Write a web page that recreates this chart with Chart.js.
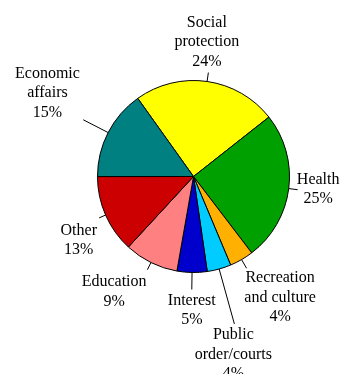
<!DOCTYPE html>
<html>
<head>
<meta charset="utf-8">
<script src="https://cdn.jsdelivr.net/npm/chart.js@4/dist/chart.umd.min.js"></script>
<style>
  html, body { margin: 0; padding: 0; background: #fff; }
  canvas { display: block; }
</style>
</head>
<body>
<canvas id="pie" width="340" height="374"></canvas>
<script>
// =====================
// DATA
// =====================
const categories = [
  ["Social", "protection"],
  ["Health"],
  ["Recreation", "and culture"],
  ["Public", "order/courts"],
  ["Interest"],
  ["Education"],
  ["Other"],
  ["Economic", "affairs"]
];
const shares = [24, 25, 4, 4, 5, 9, 13, 15];
const colors = ["#ffff00", "#00a000", "#ffb000", "#00ccff", "#0000cc", "#ff8080", "#cc0000", "#008080"];

// =====================
// LABEL LAYOUT (leader length, text offset from leader end)
// =====================
const labelLayout = [
  { len: 9, dx: -1.5, dy: -50 },
  { len: 9, dx: 20.5, dy: -10 },
  { len: 10, dx: 33.5, dy: 10 },
  { len: 57, dx: -1, dy: 11 },
  { len: 17, dx: 0, dy: 11 },
  { len: 8, dx: -33.3, dy: 12.5 },
  { len: 7, dx: -20.4, dy: 12.6 },
  { len: 28, dx: -35.8, dy: -46.2 }
];
const LINE_H = 19.5;

const sliceLabels = {
  id: "sliceLabels",
  afterDatasetsDraw(chart) {
    const ctx = chart.ctx;
    const meta = chart.getDatasetMeta(0);
    ctx.save();
    ctx.strokeStyle = "#000";
    ctx.lineWidth = 1;
    ctx.fillStyle = "#000";
    ctx.font = '16px "Liberation Serif"';
    ctx.textAlign = "center";
    ctx.textBaseline = "middle";
    meta.data.forEach((arc, i) => {
      const p = arc.getProps(["x", "y", "startAngle", "endAngle", "outerRadius"], true);
      const mid = (p.startAngle + p.endAngle) / 2;
      const lay = labelLayout[i];
      const x0 = p.x + Math.cos(mid) * p.outerRadius;
      const y0 = p.y + Math.sin(mid) * p.outerRadius;
      const x1 = p.x + Math.cos(mid) * (p.outerRadius + lay.len);
      const y1 = p.y + Math.sin(mid) * (p.outerRadius + lay.len);
      ctx.beginPath();
      ctx.moveTo(x0, y0);
      ctx.lineTo(x1, y1);
      ctx.stroke();
      const lines = [...categories[i], shares[i] + "%"];
      lines.forEach((t, k) => {
        ctx.fillText(t, x1 + lay.dx, y1 + lay.dy + k * LINE_H);
      });
    });
    ctx.restore();
  }
};

// =====================
// CHART
// =====================
new Chart(document.getElementById("pie"), {
  type: "pie",
  data: {
    labels: categories.map(c => c.join(" ")),
    datasets: [
      {
        data: shares,
        backgroundColor: colors,
        borderColor: "#000",
        borderWidth: 1,
        hoverOffset: 0,
        radius: 96
      }
    ]
  },
  options: {
    responsive: false,
    animation: false,
    rotation: -35.5,
    layout: { padding: { left: 47, right: 0, top: 0, bottom: 21 } },
    plugins: {
      legend: { display: false },
      tooltip: { enabled: false }
    }
  },
  plugins: [sliceLabels]
});
</script>
</body>
</html>
